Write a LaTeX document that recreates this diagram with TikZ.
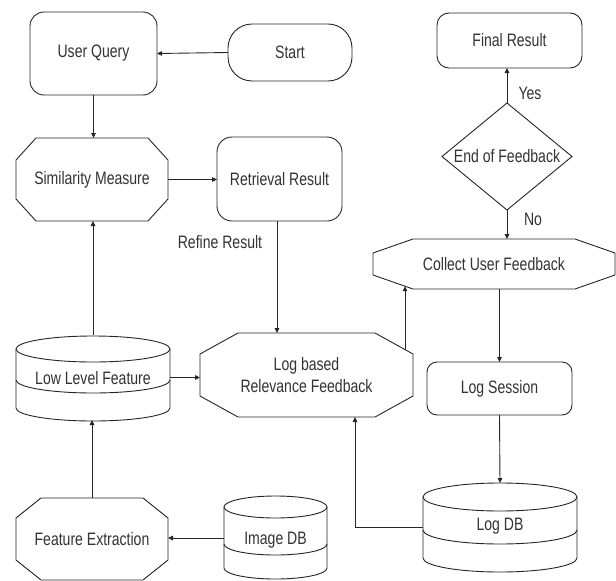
\documentclass[tikz,border=0pt]{standalone}
\usepackage{fontspec}
\setmainfont{Liberation Sans}[FakeStretch=0.78]
\usetikzlibrary{arrows.meta,calc}
\tikzset{
  shp/.style={draw=black!85, line width=0.9pt},
  lbl/.style={inner sep=0pt, outer sep=0pt, font=\fontsize{18}{22}\selectfont, text=black!80, align=center},
  rbox/.style={lbl, shp, rectangle},
  hold/.style={lbl, rectangle, draw=none},
  conn/.style={draw=black!85, line width=0.9pt},
  arr/.style={conn, -{Triangle[length=5pt,width=4.5pt]}},
}
\newcommand\octdraw[3]{%
  \draw[shp] ($(#1.north west)+(#2,0)$) -- ($(#1.north east)+(-#2,0)$) -- ($(#1.north east)+(0,#3)$) -- ($(#1.south east)+(0,-#3)$) -- ($(#1.south east)+(-#2,0)$) -- ($(#1.south west)+(#2,0)$) -- ($(#1.south west)+(0,-#3)$) -- ($(#1.north west)+(0,#3)$) -- cycle;}
% cx, rx, top-center, band-center, bottom-center, ry
\newcommand\cyldraw[6]{%
  \draw[shp] (#1,#3) ellipse [x radius=#2, y radius=#6];
  \draw[shp] ({#1-#2},#3) -- ({#1-#2},#5) arc[start angle=180, end angle=0, x radius=#2, y radius=#6] -- ({#1+#2},#3);
  \draw[shp] ({#1-#2},#4) arc[start angle=180, end angle=0, x radius=#2, y radius=#6];}
\begin{document}
\begin{tikzpicture}[x=1pt,y=-1pt]
\useasboundingbox (0,0) rectangle (616,581);
\fill[white] (0,0) rectangle (616,581);

% rounded boxes
\node[rbox, rounded corners=14pt, minimum width=127pt, minimum height=83pt] (UQ) at (93.5,53.5) {User Query};
\node[rbox, rounded corners=24pt, minimum width=124pt, minimum height=57pt] (ST) at (290,52.5) {Start};
\node[rbox, rounded corners=15pt, minimum width=125pt, minimum height=84pt] (RR) at (279.5,179) {Retrieval Result};
\node[rbox, rounded corners=12pt, minimum width=145pt, minimum height=55pt] (FR) at (509.5,40.5) {Final Result};
\node[rbox, rounded corners=10pt, minimum width=145pt, minimum height=53pt] (LS) at (499.5,388.5) {Log Session};

% octagons
\node[hold, minimum width=152pt, minimum height=83pt] (SM) at (92,179.5) {Similarity Measure};
\octdraw{SM}{20}{22}
\node[hold, minimum width=242pt, minimum height=50pt] (CF) at (494,264) {Collect User Feedback};
\octdraw{CF}{40}{14}
\node[hold, minimum width=213pt, minimum height=84pt] (LB) at (306.5,375) {Log based\\Relevance Feedback};
\octdraw{LB}{38}{21}
\node[hold, minimum width=152pt, minimum height=82pt] (FE) at (92,539) {Feature Extraction};
\octdraw{FE}{25}{20}

% diamond
\node[hold, minimum width=130pt, minimum height=107pt] (EF) at (507,156.5) {End of Feedback};
\draw[shp] (EF.north) -- (EF.east) -- (EF.south) -- (EF.west) -- cycle;

% cylinders
\node[hold, minimum width=154pt, minimum height=85pt] (LLF) at (93,377.5) {};
\cyldraw{93}{77}{349}{380}{408}{13}
\node[lbl] at (93,378) {Low Level Feature};
\node[hold, minimum width=103pt, minimum height=85pt] (IDB) at (275.5,537.5) {};
\cyldraw{275.5}{51.5}{507}{544}{568}{11}
\node[lbl] at (275.5,540) {Image DB};
\node[hold, minimum width=154pt, minimum height=89pt] (LDB) at (500,527.5) {};
\cyldraw{500}{77}{497}{530}{558}{14}
\node[lbl] at (500,526) {Log DB};

% labels
\node[lbl] (lref) at (220,242) {Refine Result};
\node[lbl] (lyes) at (530,93) {Yes};
\node[lbl] (lno) at (533,219) {No};

% connectors
\draw[arr] (ST.west) -- (UQ.east);
\draw[arr] (UQ.south) -- (UQ.south |- SM.north);
\draw[arr] (SM.east) -- (RR.west |- SM.east);
\draw[arr] ([xshift=-2.5pt]RR.south) -- ([xshift=-2.5pt]RR.south |- LB.north);
\draw[arr] (LLF.north) -- (LLF.north |- SM.south);
\draw[arr] (LLF.east) -- (LLF.east -| LB.west);
\draw[arr] (FE.north) -- (FE.north |- LLF.south);
\draw[arr] (IDB.west |- 0,538) -- (FE.east |- 0,538);
\coordinate (lbin) at ([xshift=48.5pt]LB.south);
\draw[arr] (LDB.west) -| (lbin);
\coordinate (lbout) at ($(LB.north east)+(-8,16.6)$);
\coordinate (cfin) at ($(CF.south west)+(32,-2.8)$);
\draw[arr] (lbout) -- (cfin);
\draw[arr] (EF.north) -- (EF.north |- FR.south);
\draw[arr] (EF.south) -- (EF.south |- CF.north);
\draw[arr] (LS.north |- CF.south) -- (LS.north);
\draw[arr] (LS.south) -- (LDB.north);
\end{tikzpicture}
\end{document}
